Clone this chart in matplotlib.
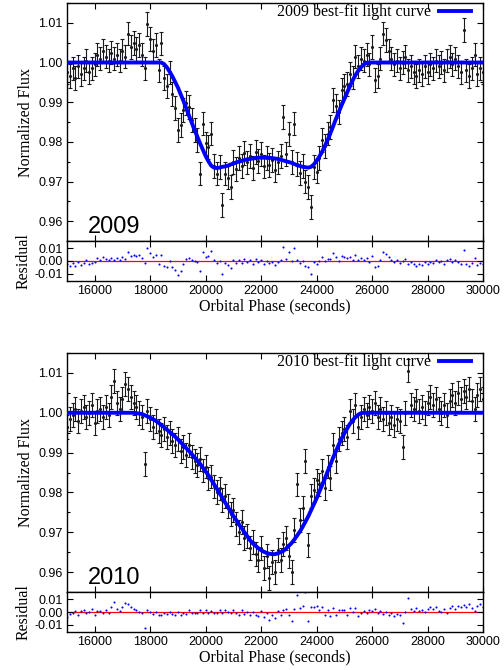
import numpy as np
import matplotlib
matplotlib.use('Agg')
import matplotlib.pyplot as plt
from matplotlib.ticker import MultipleLocator, FormatStrFormatter

plt.rcParams['font.family'] = 'Liberation Sans'
plt.rcParams['axes.unicode_minus'] = False

# observation times (s), one point every 100 s
time = np.arange(15000, 30001, 100)

# 2009 normalized flux (rows of 1000 s)
flux_2009 = [
    0.9975, 0.9965, 0.9985, 0.9960, 0.9990, 0.9970, 0.9985, 1.0005, 0.9975, 0.9985,  # 15000
    0.9995, 1.0020, 1.0010, 1.0030, 1.0015, 1.0005, 1.0025, 1.0010, 1.0020, 1.0005,  # 16000
    1.0030, 1.0015, 1.0073, 1.0040, 1.0050, 1.0035, 1.0045, 1.0020, 0.9985, 1.0098,  # 17000
    1.0060, 1.0030, 1.0045, 0.9980, 1.0048, 0.9960, 0.9940, 0.9975, 0.9920, 0.9885,  # 18000
    0.9830, 0.9842, 0.9880, 0.9897, 0.9888, 0.9855, 0.9830, 0.9804, 0.9720, 0.9846,  # 19000
    0.9796, 0.9787, 0.9821, 0.9740, 0.9720, 0.9737, 0.9640, 0.9720, 0.9710, 0.9687,  # 20000
    0.9750, 0.9732, 0.9760, 0.9740, 0.9772, 0.9748, 0.9765, 0.9735, 0.9775, 0.9752,  # 21000
    0.9770, 0.9738, 0.9760, 0.9742, 0.9755, 0.9730, 0.9748, 0.9765, 0.9863, 0.9770,  # 22000
    0.9820, 0.9750, 0.9846, 0.9745, 0.9722, 0.9740, 0.9700, 0.9687, 0.9636, 0.9737,  # 23000
    0.9725, 0.9760, 0.9804, 0.9790, 0.9821, 0.9838, 0.9905, 0.9890, 0.9875, 0.9930,  # 24000
    0.9940, 0.9945, 0.9972, 0.9962, 1.0015, 0.9990, 1.0010, 1.0005, 1.0020, 0.9995,  # 25000
    1.0040, 0.9955, 0.9965, 1.0010, 1.0073, 1.0056, 1.0030, 1.0010, 0.9995, 1.0005,  # 26000
    0.9985, 1.0000, 1.0015, 0.9980, 0.9990, 0.9975, 0.9965, 0.9980, 0.9970, 0.9990,  # 27000
    0.9975, 0.9995, 0.9985, 1.0005, 0.9990, 1.0000, 0.9980, 1.0005, 1.0015, 0.9995,  # 28000
    1.0010, 0.9990, 0.9975, 1.0082, 0.9980, 0.9965, 0.9985, 1.0020, 0.9970, 0.9985,  # 29000
    0.9975,                                                                          # 30000
]

# 2009 best-fit model, in-transit part 18400-26000 s
model_2009_transit = [
    1.0000, 0.9996, 0.9988, 0.9977, 0.9965, 0.9951,                                  # 18400
    0.9937, 0.9920, 0.9903, 0.9885, 0.9866, 0.9848, 0.9830, 0.9813, 0.9796, 0.9780,  # 19000
    0.9764, 0.9751, 0.9740, 0.9735, 0.9734, 0.9735, 0.9737, 0.9738, 0.9740, 0.9743,  # 20000
    0.9745, 0.9748, 0.9750, 0.9752, 0.9754, 0.9756, 0.9757, 0.9758, 0.9759, 0.9760,  # 21000
    0.9760, 0.9760, 0.9760, 0.9760, 0.9759, 0.9758, 0.9757, 0.9755, 0.9753, 0.9751,  # 22000
    0.9749, 0.9747, 0.9744, 0.9741, 0.9739, 0.9737, 0.9736, 0.9735, 0.9737, 0.9743,  # 23000
    0.9752, 0.9763, 0.9775, 0.9790, 0.9805, 0.9822, 0.9840, 0.9858, 0.9875, 0.9892,  # 24000
    0.9908, 0.9924, 0.9940, 0.9955, 0.9968, 0.9979, 0.9988, 0.9995, 0.9999, 1.0000,  # 25000
    1.0000,                                                                          # 26000
]
model_2009 = [1.0] * 34 + model_2009_transit + [1.0] * 40

# 2010 normalized flux
flux_2010 = [
    0.9965, 0.9985, 0.9995, 1.0010, 0.9980, 1.0005, 1.0015, 0.9990, 1.0000, 1.0020,  # 15000
    0.9975, 1.0005, 1.0010, 0.9990, 1.0015, 0.9995, 1.0040, 1.0080, 1.0025, 1.0010,  # 16000
    1.0035, 1.0072, 1.0060, 1.0040, 1.0025, 1.0015, 1.0000, 0.9990, 0.9872, 1.0005,  # 17000
    0.9985, 0.9965, 0.9980, 0.9955, 0.9945, 0.9960, 0.9940, 0.9950, 0.9930, 0.9920,  # 18000
    0.9935, 0.9905, 0.9915, 0.9895, 0.9920, 0.9890, 0.9880, 0.9870, 0.9885, 0.9855,  # 19000
    0.9865, 0.9835, 0.9840, 0.9815, 0.9800, 0.9810, 0.9780, 0.9790, 0.9765, 0.9745,  # 20000
    0.9755, 0.9720, 0.9700, 0.9725, 0.9685, 0.9690, 0.9660, 0.9675, 0.9645, 0.9630,  # 21000
    0.9660, 0.9610, 0.9640, 0.9585, 0.9625, 0.9600, 0.9655, 0.9630, 0.9670, 0.9686,  # 22000
    0.9640, 0.9600, 0.9705, 0.9820, 0.9730, 0.9760, 0.9879, 0.9669, 0.9790, 0.9805,  # 23000
    0.9830, 0.9820, 0.9855, 0.9810, 0.9865, 0.9837, 0.9920, 0.9880, 0.9935, 0.9950,  # 24000
    0.9960, 0.9940, 1.0005, 0.9980, 1.0020, 0.9965, 0.9990, 1.0010, 0.9995, 1.0015,  # 25000
    1.0005, 1.0025, 0.9990, 1.0010, 0.9985, 1.0000, 0.9975, 0.9990, 0.9970, 0.9985,  # 26000
    0.9980, 0.9913, 1.0000, 1.0106, 1.0020, 1.0010, 1.0030, 1.0005, 1.0015, 1.0000,  # 27000
    1.0025, 1.0040, 1.0020, 1.0035, 1.0010, 1.0000, 1.0020, 0.9995, 1.0030, 1.0045,  # 28000
    1.0025, 1.0050, 1.0035, 1.0055, 1.0040, 1.0060, 1.0030, 1.0010, 1.0045, 1.0060,  # 29000
    1.0035,                                                                          # 30000
]

# 2010 best-fit model, in-transit part 17400-25700 s
model_2010_transit = [
    1.0000, 0.9999, 0.9998, 0.9997, 0.9994, 0.9991,                                  # 17400
    0.9988, 0.9984, 0.9980, 0.9975, 0.9969, 0.9964, 0.9958, 0.9952, 0.9946, 0.9940,  # 18000
    0.9933, 0.9926, 0.9919, 0.9911, 0.9904, 0.9896, 0.9888, 0.9880, 0.9872, 0.9862,  # 19000
    0.9853, 0.9843, 0.9832, 0.9821, 0.9810, 0.9798, 0.9787, 0.9775, 0.9764, 0.9752,  # 20000
    0.9741, 0.9731, 0.9720, 0.9710, 0.9700, 0.9690, 0.9680, 0.9672, 0.9666, 0.9660,  # 21000
    0.9655, 0.9651, 0.9648, 0.9646, 0.9645, 0.9645, 0.9647, 0.9650, 0.9653, 0.9659,  # 22000
    0.9666, 0.9673, 0.9682, 0.9692, 0.9702, 0.9714, 0.9727, 0.9740, 0.9755, 0.9770,  # 23000
    0.9785, 0.9802, 0.9818, 0.9835, 0.9853, 0.9870, 0.9888, 0.9904, 0.9920, 0.9935,  # 24000
    0.9948, 0.9960, 0.9972, 0.9981, 0.9989, 0.9995, 0.9999, 1.0000,                  # 25000
]
model_2010 = [1.0] * 24 + model_2010_transit + [1.0] * 43

flux_err = {'2009': 0.003, '2010': 0.003}

panels = [
    ('2009', flux_2009, model_2009, 0.9955, 0.6403),
    ('2010', flux_2010, model_2010, 0.4731, 0.1164),
]

fig = plt.figure(figsize=(5.04, 6.70), dpi=100)
left, width = 0.1329, 0.8254
res_h = 0.0597

serif = 'Liberation Serif'

for year, flux, model, top, bottom in panels:
    flux = np.array(flux)
    model = np.array(model)
    resid = flux - model

    ax = fig.add_axes([left, bottom, width, top - bottom])
    axr = fig.add_axes([left, bottom - res_h, width, res_h], sharex=ax)

    # data with error bars + best fit
    ax.errorbar(time, flux, yerr=flux_err[year], fmt='.', color='#1a1a1a',
                ms=2.5, elinewidth=0.8, capsize=1.6, capthick=0.8, zorder=2)
    ax.plot(time, model, color='#0000ff', lw=2.8, zorder=3,
            label=f'{year} best-fit light curve')
    ax.set_xlim(15000, 30000)
    ax.set_ylim(0.955, 1.015)
    ax.yaxis.set_major_locator(MultipleLocator(0.01))
    ax.yaxis.set_minor_locator(MultipleLocator(0.005))
    ax.xaxis.set_major_locator(MultipleLocator(2000))
    ax.xaxis.set_minor_locator(MultipleLocator(1000))
    ax.yaxis.set_major_formatter(FormatStrFormatter('%.2f'))
    ax.tick_params(axis='x', labelbottom=False)
    ax.set_ylabel('Normalized Flux', family=serif, fontsize=11.5, labelpad=3)
    ax.text(0.05, 0.035, year, transform=ax.transAxes, fontsize=17)
    ax.legend(loc='upper right', bbox_to_anchor=(0.97, 0.995), frameon=False,
              markerfirst=False, prop={'family': serif, 'size': 11.5},
              handlelength=2.0, handletextpad=0.5, borderpad=0, borderaxespad=0)

    # residuals
    axr.plot(time, resid, '.', color='#0000ff', ms=3, mew=0)
    axr.axhline(0, color='red', lw=0.9, zorder=0)
    axr.set_ylim(-0.0155, 0.0155)
    axr.yaxis.set_major_locator(MultipleLocator(0.01))
    axr.yaxis.set_minor_locator(plt.NullLocator())
    axr.xaxis.set_minor_locator(plt.NullLocator())
    axr.yaxis.set_major_formatter(FormatStrFormatter('%.2f'))
    axr.set_ylabel('Residual', family=serif, fontsize=11.5, labelpad=2)
    axr.set_xlabel('Orbital Phase (seconds)', family=serif, fontsize=11.5, labelpad=1)

    for a in (ax, axr):
        a.tick_params(which='both', direction='in', top=True, right=True,
                      labelsize=9, pad=3)
        a.tick_params(which='major', length=4.5, width=0.8)
        a.tick_params(which='minor', length=2.5, width=0.8)
        for s in a.spines.values():
            s.set_linewidth(1.0)

fig.savefig('out.png', dpi=100)
